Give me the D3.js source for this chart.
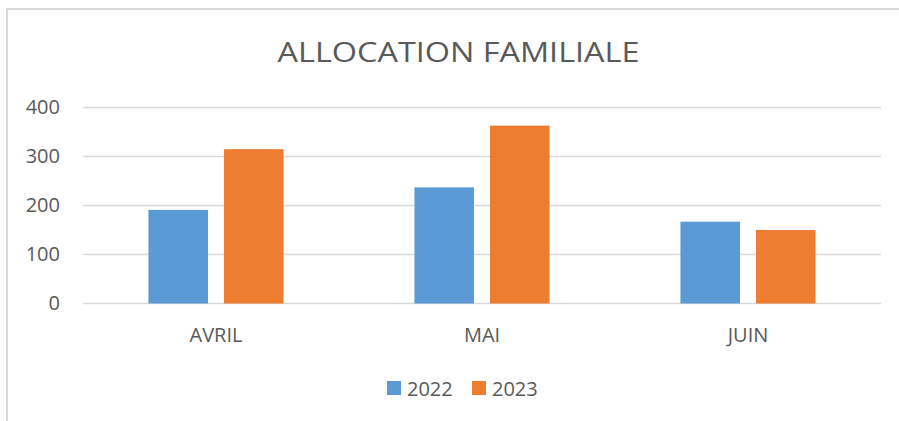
<!DOCTYPE html>
<html>
<head>
<meta charset="utf-8">
<script src="https://cdn.jsdelivr.net/npm/d3@7"></script>
<style>
 body { margin: 0; background: #fff; }
 text { font-family: "Open Sans", sans-serif; fill: #595959; }
</style>
</head>
<body>
<div id="chart"></div>
<script>
// data
var categories = ["AVRIL", "MAI", "JUIN"];
var seriesNames = ["2022", "2023"];
var values2022 = [191, 237, 167];
var values2023 = [315, 363, 150];
var yTicks = [0, 100, 200, 300, 400];
var colors = ["#5B9BD5", "#ED7D31"];

var W = 899, H = 421;
var margin = {top: 107.5, right: 18, bottom: 117.5, left: 83};
var width = W - margin.left - margin.right,
    height = H - margin.top - margin.bottom;

var svg = d3.select("#chart")
 .append("svg")
 .attr("width", W)
 .attr("height", H);

// chart frame (only top and left visible)
svg.append("rect")
 .attr("x", 7).attr("y", 9)
 .attr("width", 1000).attr("height", 1000)
 .attr("fill", "none")
 .attr("stroke", "#d9d9d9")
 .attr("stroke-width", 2);

// title
svg.append("text")
 .attr("x", 458.5).attr("y", 62)
 .attr("text-anchor", "middle")
 .attr("font-size", 27)
 .attr("textLength", 362)
 .attr("lengthAdjust", "spacingAndGlyphs")
 .text("ALLOCATION FAMILIALE");

var g = svg.append("g")
 .attr("transform", "translate(" + margin.left + "," + margin.top + ")");

var y = d3.scaleLinear().domain([0, 400]).range([height, 0]);

var x0 = d3.scaleBand().domain(categories).range([0, width]).padding(0);
var groupW = x0.bandwidth() * 0.508;
var x1 = d3.scaleBand().domain(seriesNames)
 .range([(x0.bandwidth() - groupW) / 2, (x0.bandwidth() + groupW) / 2])
 .paddingInner(0.212);

// gridlines
g.append("g")
 .selectAll("line")
 .data(yTicks)
 .enter()
 .append("line")
 .attr("x1", 0).attr("x2", width)
 .attr("y1", function(d) { return y(d); })
 .attr("y2", function(d) { return y(d); })
 .attr("stroke", "#d9d9d9")
 .attr("stroke-width", 1.5);

// y axis labels
var yAxis = g.append("g")
 .call(d3.axisLeft(y).tickValues(yTicks).tickSize(0).tickPadding(23));
yAxis.select(".domain").remove();
yAxis.selectAll("text")
 .attr("font-size", 20)
 .attr("font-family", "Open Sans")
 .attr("fill", "#595959");

// x axis labels
var xAxis = g.append("g")
 .attr("transform", "translate(0," + height + ")")
 .call(d3.axisBottom(x0).tickSize(0).tickPadding(24));
xAxis.select(".domain").remove();
xAxis.selectAll("text")
 .attr("font-size", 20)
 .attr("font-family", "Open Sans")
 .attr("fill", "#595959");

// bars
var rows = categories.map(function(c, i) {
 return {cat: c, vals: [values2022[i], values2023[i]]};
});

var groups = g.selectAll(".grp")
 .data(rows)
 .enter()
 .append("g")
 .attr("transform", function(d) { return "translate(" + x0(d.cat) + ",0)"; });

groups.selectAll("rect")
 .data(function(d) { return d.vals.map(function(v, j) { return {s: seriesNames[j], v: v, c: colors[j]}; }); })
 .enter()
 .append("rect")
 .attr("x", function(d) { return x1(d.s); })
 .attr("y", function(d) { return y(d.v); })
 .attr("width", x1.bandwidth())
 .attr("height", function(d) { return height - y(d.v); })
 .attr("fill", function(d) { return d.c; });

// legend
var legendX = [387, 472];
var legend = svg.selectAll(".leg")
 .data(seriesNames)
 .enter()
 .append("g")
 .attr("transform", function(d, i) { return "translate(" + legendX[i] + ",381)"; });
legend.append("rect")
 .attr("width", 14).attr("height", 14)
 .attr("fill", function(d, i) { return colors[i]; });
legend.append("text")
 .attr("x", 20).attr("y", 14.5)
 .attr("font-size", 20)
 .text(function(d) { return d; });
</script>
</body>
</html>
